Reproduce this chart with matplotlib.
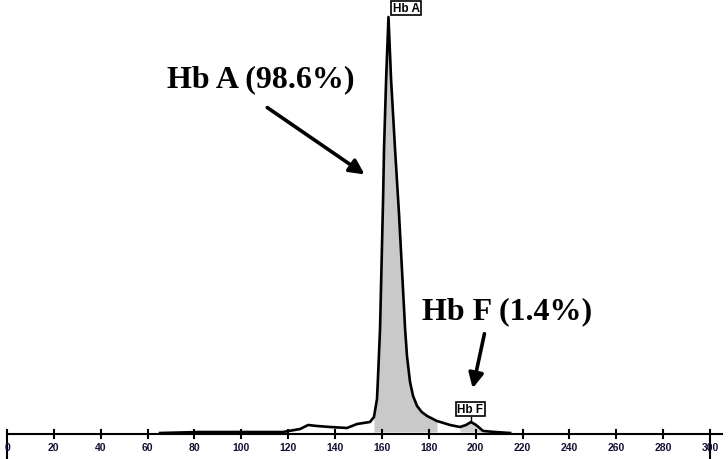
import matplotlib
matplotlib.use("Agg")
import matplotlib.pyplot as plt

# chromatogram trace (retention time, signal)
time = [65.3, 82.4, 103.7, 117.8, 125.1, 128.5, 132.3, 137.9, 145.1, 149.4, 154.9,
        156.6, 157.9, 158.3, 159.2, 159.6, 160.5, 160.9, 161.8, 162.8,
        163.9, 165.6, 167.3, 169.0, 169.9, 170.7, 172.0, 173.3, 175.0, 177.0, 179.3, 183.5,
        189.1, 193.3, 195.9, 198.0, 200.2, 203.2, 208.3, 214.7]
signal = [1, 2, 2, 2, 5, 9, 8, 7, 6, 10, 12,
          17, 35, 55, 105, 145, 235, 285, 355, 417,
          355, 285, 220, 145, 105, 78, 52, 38, 28, 22, 18, 13,
          9, 7, 9, 12, 9, 3, 2, 1]

ticks = list(range(0, 301, 20))
tick_labels = [str(t) for t in ticks]

peak_names = ["Hb A", "Hb F"]
peak_times = [162.8, 198.0]
peak_heights = [417, 12]
peak_notes = ["Hb A (98.6%)", "Hb F (1.4%)"]

fig = plt.figure(figsize=(7.28, 4.6), dpi=100)
ax = fig.add_axes([0, 0, 1, 1])
ax.set_xlim(-2.99, 307.7)
ax.set_ylim(-25, 435)
ax.axis("off")

# shaded peak areas
fa = [(t, s) for t, s in zip(time, signal) if 156.6 <= t <= 184]
ax.fill_between([p[0] for p in fa], 2, [p[1] for p in fa], color="#c9c9c9", lw=0)
ff = [(t, s) for t, s in zip(time, signal) if 193.3 <= t <= 203.2]
ax.fill_between([p[0] for p in ff], 2, [p[1] for p in ff], color="#d0d0d0", lw=0)

ax.plot(time, signal, color="black", lw=1.9, solid_joinstyle="round")

# baseline axis with tick crosses
ax.plot([0, 305], [0, 0], color="black", lw=1.5)
for t, lab in zip(ticks, tick_labels):
    if t in (0, 300):
        ax.plot([t, t], [4, -25], color="black", lw=1.5)
    else:
        ax.plot([t, t], [4, -4], color="black", lw=1.5)
    ax.text(t, -13, lab, ha="center", va="center", fontsize=7.5,
            fontweight="bold", family="Liberation Sans", color="#111133")

# peak name boxes
ax.text(170.3, 426, peak_names[0], ha="center", va="center", fontsize=8.5,
        fontweight="bold", family="Liberation Sans",
        bbox=dict(boxstyle="square,pad=0.12", fc="white", ec="black", lw=1.2))
ax.text(197.8, 25, peak_names[1], ha="center", va="center", fontsize=8.5,
        fontweight="bold", family="Liberation Sans",
        bbox=dict(boxstyle="square,pad=0.12", fc="white", ec="black", lw=1.2))
ax.plot([peak_times[1], peak_times[1]], [17, peak_heights[1]], color="black", lw=1)

# big annotations with arrows
ax.text(108.4, 355, peak_notes[0], ha="center", va="center", fontsize=23,
        fontweight="bold", family="Liberation Serif")
ax.annotate("", xy=(153.6, 258), xytext=(110.1, 328),
            arrowprops=dict(arrowstyle="-|>", color="black", lw=2.6, mutation_scale=22))
ax.text(213.4, 123, peak_notes[1], ha="center", va="center", fontsize=23,
        fontweight="bold", family="Liberation Serif")
ax.annotate("", xy=(198.5, 43), xytext=(204.0, 103),
            arrowprops=dict(arrowstyle="-|>", color="black", lw=2.6, mutation_scale=22))

fig.savefig("out.png", dpi=100)
